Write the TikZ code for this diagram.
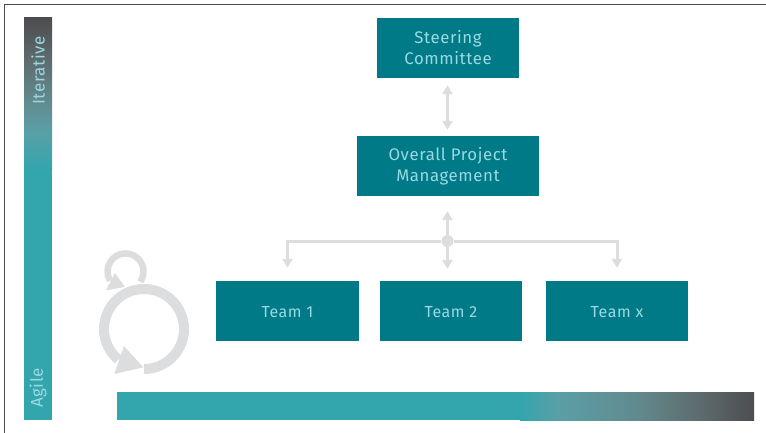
\documentclass[tikz,border=0pt]{standalone}
\usepackage{fontspec}
\setmainfont[LetterSpace=3.5]{Fira Sans}
\usetikzlibrary{arrows.meta, positioning}

\definecolor{boxteal}{HTML}{007A87}
\definecolor{barteal}{HTML}{33A5AD}
\definecolor{fadea}{HTML}{5A9FA6}
\definecolor{fadeb}{HTML}{618A8E}
\definecolor{fadec}{HTML}{5E6C6F}
\definecolor{bardark}{HTML}{4D4D4F}
\definecolor{labelblue}{HTML}{9AD9E2}
\definecolor{linegray}{HTML}{DCDDDE}

\pgfdeclarehorizontalshading{barfadex}{100bp}{color(0bp)=(barteal); color(25bp)=(barteal); color(33bp)=(fadea); color(50bp)=(fadeb); color(63bp)=(fadec); color(75bp)=(bardark); color(100bp)=(bardark)}
\pgfdeclareverticalshading{barfadey}{100bp}{color(0bp)=(barteal); color(25bp)=(barteal); color(38bp)=(fadea); color(48bp)=(fadeb); color(61bp)=(fadec); color(75bp)=(bardark); color(100bp)=(bardark)}

\tikzset{
	teambox/.style={fill=boxteal,text=labelblue,minimum height=60pt,align=center,font=\fontsize{16.8}{21}\selectfont,inner sep=0pt},
	barlabel/.style={text=labelblue,rotate=90,font=\fontsize{17}{18}\selectfont,inner sep=0pt},
	link/.style={draw=linegray,line width=3pt,-{Triangle[length=9pt,width=10pt]}},
	biglink/.style={link,{Triangle[length=9pt,width=10pt]}-{Triangle[length=9pt,width=10pt]}}
}

\begin{document}
\begin{tikzpicture}[x=1pt,y=-1pt]
	\useasboundingbox (0,0) rectangle (766,433);
	\draw[bardark,line width=1pt] (766,5) -- (4,5) -- (4,433);

	% bars
	\shade[shading=barfadey] (24,18) rectangle (52,170);
	\fill[barteal] (24,169.5) rectangle (52,420);
	\shade[shading=barfadex] (520,392) rectangle (754,420);
	\fill[barteal] (117,392) rectangle (520.5,420);
	\node[barlabel] (iterative) at (38,70.5) {Iterative};
	\node[barlabel] (agile) at (38,388) {Agile};

	% boxes
	\node[teambox,minimum width=142pt] (steering) at (448,48) {Steering\\Committee};
	\node[teambox,minimum width=182pt] (overall) at (448,166) {Overall Project\\Management};
	\foreach \name/\x/\txt in {teama/287.5/Team 1,teamb/451/Team 2,teamc/617/Team x}{
		\node[teambox,minimum width=142.5pt,text height=13pt,font=\fontsize{16}{21}\selectfont] (\name) at (\x,311) {\txt};
	}

	% connectors
	\node[circle,fill=linegray,minimum size=12pt,inner sep=0pt] (hub) at (447.5,241) {};
	\draw[biglink,shorten <=7pt,shorten >=6pt] (steering.south -| hub) -- (overall.north -| hub);
	\draw[link,shorten >=15pt] (hub) -- (overall.south -| hub);
	\draw[link,shorten >=12pt] (hub) -- (hub |- teamb.north);
	\draw[link,shorten >=13pt] (hub) -| (teama.north);
	\draw[link,shorten >=13pt] (hub) -| (teamc.north);

	% cycle icon
	\draw[linegray,line width=6.5pt] (125.5,271.5) ++(35:18) arc[start angle=35,end angle=-211,radius=18];
	\fill[linegray] (115,273) -- (106,290.3) -- (125,287) -- cycle;
	\draw[linegray,line width=10pt] (144,369) arc[start angle=90,end angle=-230,radius=40];
	\fill[linegray] (124,346) -- (114.3,374) -- (143.3,367.3) -- cycle;
\end{tikzpicture}
\end{document}
